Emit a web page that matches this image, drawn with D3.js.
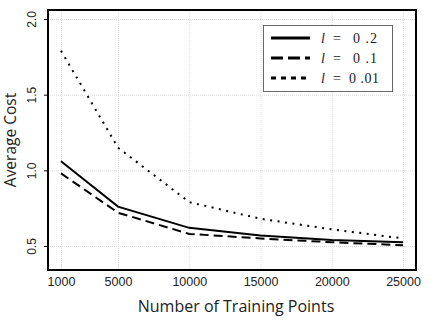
<!DOCTYPE html>
<html>
<head>
<meta charset="utf-8">
<script src="https://cdn.jsdelivr.net/npm/d3@7"></script>
<style>
  body { margin: 0; background: #fff; }
  svg { display: block; }
</style>
</head>
<body>
<script>
// data
var points = [1000, 5000, 10000, 15000, 20000, 25000];
var cost02 = [1.06, 0.76, 0.62, 0.57, 0.54, 0.525];
var cost01 = [0.98, 0.72, 0.58, 0.55, 0.525, 0.505];
var cost001 = [1.79, 1.15, 0.79, 0.68, 0.61, 0.55];
var seriesNames = ["0 .2", "0 .1", "0 .01"];
var yTicks = [0.5, 1.0, 1.5, 2.0];

var w = 436, h = 320;
// plot frame
var padL = 48, padR = 416, padT = 10, padB = 270;

var svg = d3.select("body").append("svg")
    .attr("width", w)
    .attr("height", h);

// scales
var xScale = d3.scaleLinear().domain([1000, 25000]).range([61, 403]);
var yScale = d3.scaleLinear().domain([0.5, 2.0]).range([246, 19]);

// grid
svg.append("g").selectAll("line")
    .data(points).enter().append("line")
    .attr("x1", d => xScale(d) + 0.5).attr("x2", d => xScale(d) + 0.5)
    .attr("y1", padT).attr("y2", padB)
    .attr("stroke", "#ddd").attr("stroke-width", 1)
    .attr("stroke-dasharray", "1,1");
svg.append("g").selectAll("line")
    .data(yTicks).enter().append("line")
    .attr("x1", padL).attr("x2", padR)
    .attr("y1", d => yScale(d) + 0.5).attr("y2", d => yScale(d) + 0.5)
    .attr("stroke", "#ddd").attr("stroke-width", 1)
    .attr("stroke-dasharray", "1,1");

// axes
var xAxis = d3.axisBottom(xScale).tickValues(points).tickSize(0).tickPadding(7)
    .tickFormat(d3.format("d"));
var gx = svg.append("g").attr("transform", "translate(0," + padB + ")").call(xAxis);
gx.select(".domain").remove();
gx.selectAll("text")
    .attr("font-family", "Liberation Sans, Arial, sans-serif")
    .attr("font-size", 12.5).attr("fill", "#222");

var yAxis = d3.axisLeft(yScale).tickValues(yTicks).tickSize(4).tickPadding(3)
    .tickFormat(d3.format(".1f"));
var gy = svg.append("g").attr("transform", "translate(" + padL + ",0)").call(yAxis);
gy.select(".domain").remove();
gy.selectAll("line").attr("stroke", "#000");
gy.selectAll("text")
    .attr("font-family", "Liberation Sans, Arial, sans-serif")
    .attr("font-size", 12).attr("fill", "#222")
    .attr("text-anchor", "middle")
    .attr("dy", null)
    .attr("x", 0).attr("y", 0)
    .attr("transform", "translate(-16,0) rotate(-90)")
    .attr("dominant-baseline", "central");

// frame
svg.append("rect")
    .attr("x", padL).attr("y", padT)
    .attr("width", padR - padL).attr("height", padB - padT)
    .attr("fill", "none").attr("stroke", "#000").attr("stroke-width", 2);

// lines
var styles = [
  { data: cost02, dash: null },
  { data: cost01, dash: "9,5" },
  { data: cost001, dash: "2,5.5" }
];
var line = d3.line()
    .x((d, i) => xScale(points[i]))
    .y(d => yScale(d));
styles.forEach(function(s) {
  svg.append("path")
    .attr("d", line(s.data))
    .attr("fill", "none")
    .attr("stroke", "#000")
    .attr("stroke-width", 2)
    .attr("stroke-dasharray", s.dash);
});

// legend
var lg = svg.append("g");
lg.append("rect")
    .attr("x", 263.5).attr("y", 25.5).attr("width", 129).attr("height", 66)
    .attr("fill", "#fff").attr("stroke", "#666").attr("stroke-width", 1);
var legendDash = [null, "12,5", "5,5"];
var numX = [353, 353, 349];
var legendFont = "Liberation Serif, Times New Roman, serif";
seriesNames.forEach(function(name, i) {
  var y = 38 + i * 20;
  lg.append("line")
    .attr("x1", 271).attr("x2", 310).attr("y1", y).attr("y2", y)
    .attr("stroke", "#000").attr("stroke-width", 3)
    .attr("stroke-dasharray", legendDash[i]);
  lg.append("text")
    .attr("x", 321).attr("y", y + 5)
    .attr("font-family", legendFont).attr("font-style", "italic")
    .attr("font-size", 14).attr("fill", "#222")
    .text("l");
  lg.append("text")
    .attr("x", 333).attr("y", y + 5)
    .attr("font-family", legendFont)
    .attr("font-size", 14).attr("fill", "#222")
    .text("=");
  lg.append("text")
    .attr("x", numX[i]).attr("y", y + 5)
    .attr("font-family", legendFont)
    .attr("font-size", 14).attr("fill", "#222")
    .attr("letter-spacing", i < 2 ? 1 : 0.5)
    .attr("xml:space", "preserve")
    .text(name);
});

// titles
svg.append("text")
    .attr("x", 236).attr("y", 312)
    .attr("text-anchor", "middle")
    .attr("font-family", "Open Sans, sans-serif")
    .attr("font-size", 16).attr("fill", "#222")
    .text("Number of Training Points");
svg.append("text")
    .attr("transform", "translate(16," + ((padT + padB) / 2) + ") rotate(-90)")
    .attr("text-anchor", "middle")
    .attr("font-family", "Open Sans, sans-serif")
    .attr("font-size", 15.5).attr("fill", "#222")
    .text("Average Cost");
</script>
</body>
</html>
